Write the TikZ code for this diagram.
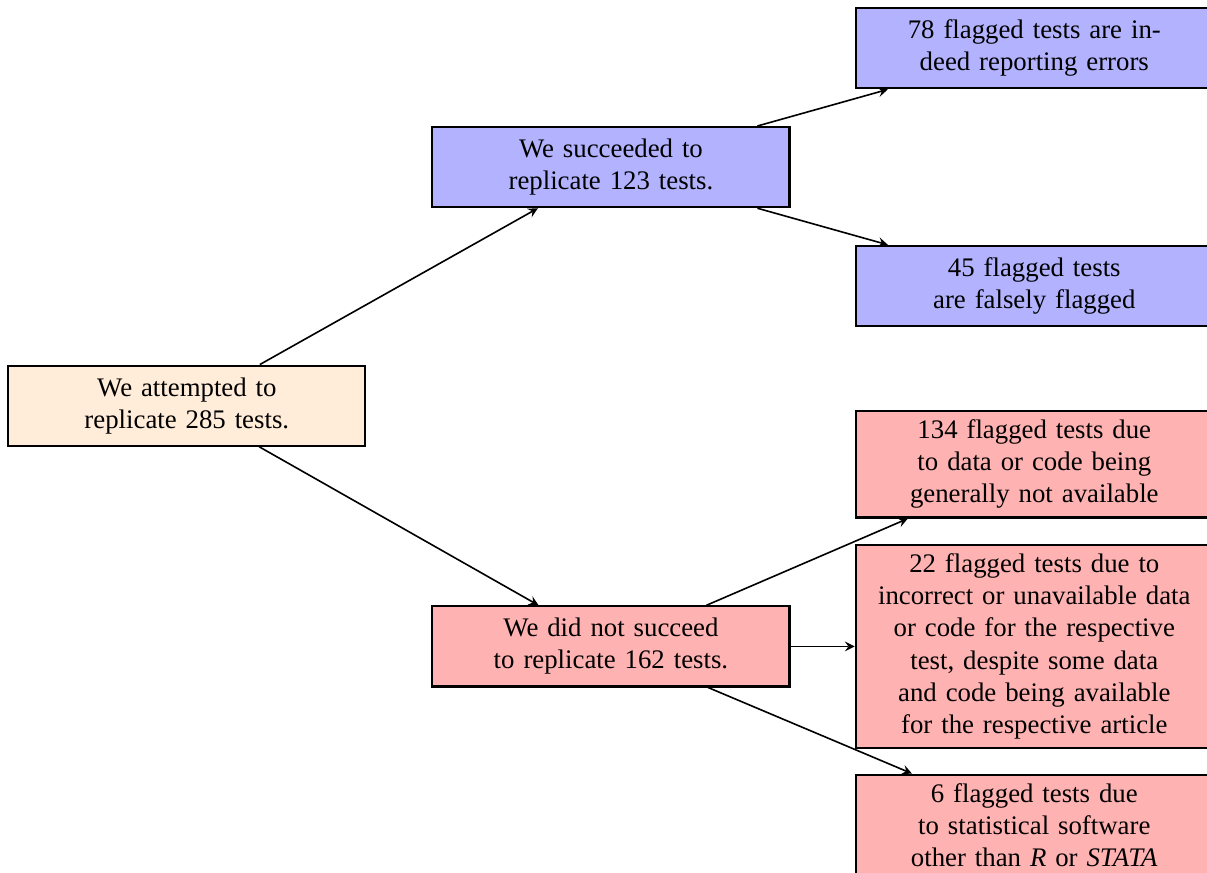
\documentclass[tikz,border=0pt]{standalone}
\usepackage{fontspec}
\setmainfont{Liberation Serif}
\usetikzlibrary{positioning}

\tikzset{
  box/.style={draw, thick, text width=4.45cm, align=center, minimum height=1.05cm},
  okbox/.style={box, fill=blue!30},
  failbox/.style={box, fill=red!30},
  startbox/.style={box, fill=orange!15},
  link/.style={->, >=stealth, semithick}
}

\begin{document}
\begin{tikzpicture}
\path[use as bounding box, clip] (0,0) rectangle (15.83,-11.44);

\node[startbox] (attempt) at (2.45,-5.32) {We attempted to\\replicate 285 tests.};

\node[okbox, above right=2.05cm and 0.85cm of attempt] (succ) {We succeeded to\\replicate 123 tests.};
\node[failbox, below right=2.08cm and 0.85cm of attempt] (nosucc) {We did not succeed\\to replicate 162 tests.};

\node[okbox, above right=0.48cm and 0.84cm of succ] (errors) {78 flagged tests are in-\\deed reporting errors};
\node[okbox, below right=0.48cm and 0.84cm of succ] (falsely) {45 flagged tests\\are falsely flagged};

\node[failbox, right=0.84cm of nosucc] (partial) {22 flagged tests due to\\incorrect or unavailable data\\or code for the respective\\test, despite some data\\and code being available\\for the respective article};
\node[failbox, above=0.33cm of partial] (nodata) {134 flagged tests due\\to data or code being\\generally not available};
\node[failbox, below=0.32cm of partial] (software) {6 flagged tests due\\to statistical software\\other than \textit{R} or \textit{STATA}};

\draw[link] (attempt) -- (succ);
\draw[link] (attempt) -- (nosucc);
\draw[link] (succ) -- (errors);
\draw[link] (succ) -- (falsely);
\draw[link] (nosucc) -- (nodata);
\draw[link] (nosucc) -- (partial);
\draw[link] (nosucc) -- (software);
\end{tikzpicture}
\end{document}
